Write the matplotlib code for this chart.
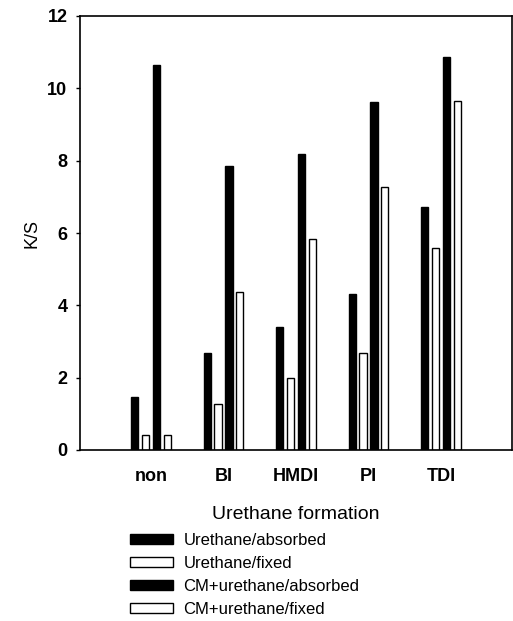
import matplotlib
matplotlib.use("Agg")
import matplotlib.pyplot as plt
import numpy as np

categories = ["non", "BI", "HMDI", "PI", "TDI"]
series_names = ["Urethane/absorbed", "Urethane/fixed",
                "CM+urethane/absorbed", "CM+urethane/fixed"]
urethane_absorbed = [1.47, 2.69, 3.39, 4.31, 6.73]
urethane_fixed = [0.41, 1.27, 1.98, 2.67, 5.59]
cm_urethane_absorbed = [10.65, 7.86, 8.18, 9.63, 10.88]
cm_urethane_fixed = [0.41, 4.37, 5.84, 7.26, 9.66]
yticks = [0, 2, 4, 6, 8, 10, 12]

plt.rcParams['font.family'] = ['Liberation Sans', 'DejaVu Sans']

fig = plt.figure(figsize=(5.13, 6.21), dpi=100)
ax = fig.add_axes([80/513, 1-450/621, (512-80)/513, (450-16)/621])

x = np.arange(len(categories))
all_series = [urethane_absorbed, urethane_fixed, cm_urethane_absorbed, cm_urethane_fixed]
offsets = [-0.225, -0.075, 0.075, 0.225]
faces = ["black", "white", "black", "white"]
handles = []
for vals, off, fc, name in zip(all_series, offsets, faces, series_names):
    b = ax.bar(x + off, vals, width=0.1, color=fc, edgecolor="black",
               linewidth=1.0, label=name)
    handles.append(b)

ax.set_xlim(-0.98, 4.98)
ax.set_ylim(0, 12)
ax.set_yticks(yticks)
ax.set_yticklabels([str(t) for t in yticks], fontsize=13, fontweight='bold')
ax.set_xticks(x)
ax.set_xticklabels(categories, fontsize=13, fontweight='bold')
ax.tick_params(axis='x', length=0, pad=13)
ax.tick_params(axis='y', length=3, width=1, direction='out', pad=6)
for s in ax.spines.values():
    s.set_linewidth(1.2)

ax.set_ylabel("K/S", fontsize=13, labelpad=5)
ax.set_xlabel("Urethane formation", fontsize=14, labelpad=15)

fig.legend(handles=handles, labels=series_names, loc='upper left',
           bbox_to_anchor=(130/513, 1-533/621), frameon=False,
           fontsize=12, handlelength=2.6, handleheight=0.55,
           handletextpad=0.6, labelspacing=0.47, borderpad=0,
           borderaxespad=0)

fig.savefig("out.png", dpi=100)
